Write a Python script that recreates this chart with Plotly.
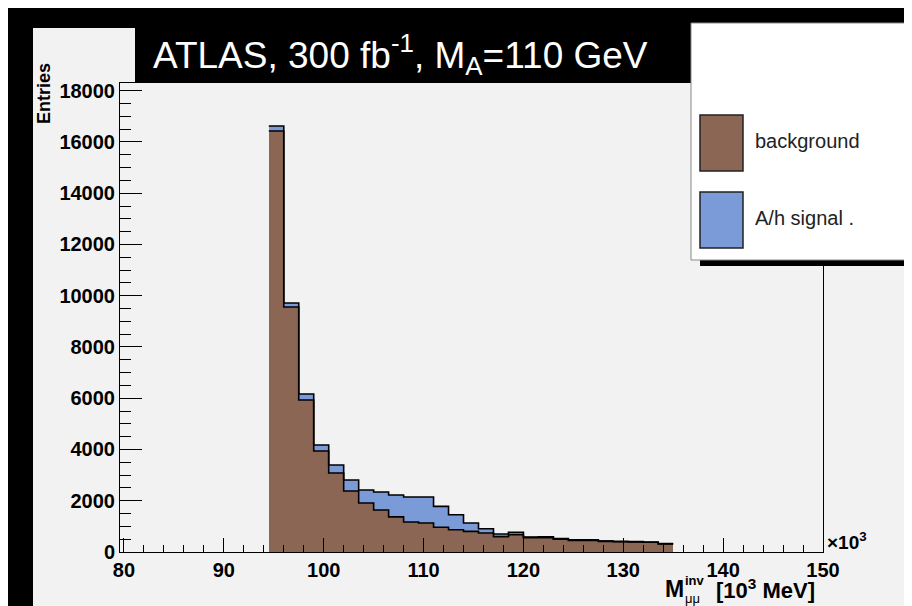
import plotly.graph_objects as go

# ---------------- data ----------------
bin_centers = [95.25, 96.75, 98.25, 99.75, 101.25, 102.75, 104.25, 105.75, 107.25,
               108.75, 110.25, 111.75, 113.25, 114.75, 116.25, 117.75, 119.25, 120.75,
               122.25, 123.75, 125.25, 126.75, 128.25, 129.75, 131.25, 132.75, 134.25]
background = [16430, 9560, 5930, 3940, 3080, 2380, 1910, 1640, 1370,
              1170, 1130, 965, 870, 805, 740, 600, 675, 560,
              560, 495, 455, 455, 415, 400, 390, 378, 312]
signal = [190, 155, 235, 235, 315, 430, 510, 700, 855,
          975, 1015, 815, 585, 325, 170, 100, 90, 25,
          35, 25, 25, 25, 15, 15, 13, 12, 13]
bin_width = 1.5
x_ticks = [80, 90, 100, 110, 120, 130, 140, 150]
y_ticks = [0, 2000, 4000, 6000, 8000, 10000, 12000, 14000, 16000, 18000]

BROWN = "#8C6654"
BLUE = "#7B9BD8"
BG = "#F2F2F2"

total = [b + s for b, s in zip(background, signal)]
lefts = [c - bin_width / 2 for c in bin_centers]
step_x = lefts + [bin_centers[-1] + bin_width / 2]

fig = go.Figure()
fig.add_trace(go.Bar(x=bin_centers, y=background, width=bin_width,
                     marker=dict(color=BROWN, line=dict(width=0)), showlegend=False))
fig.add_trace(go.Bar(x=bin_centers, y=signal, width=bin_width,
                     marker=dict(color=BLUE, line=dict(width=0)), showlegend=False))
fig.add_trace(go.Scatter(x=step_x, y=total + [total[-1]], mode="lines", line_shape="hv",
                         line=dict(color="black", width=1.6), showlegend=False))
fig.add_trace(go.Scatter(x=step_x, y=background + [background[-1]], mode="lines",
                         line_shape="hv", line=dict(color="black", width=1.6), showlegend=False))

# plot area in pixels
L, R, T, B = 112, 815, 75, 544
W, H = R - L, B - T


def px(xp):
    return (xp - L) / W


def py(yp):
    return (B - yp) / H


tickfont = dict(family="Liberation Sans, Arial", size=20, color="black", weight="bold")

fig.update_layout(
    width=912, height=606,
    margin=dict(l=L, r=912 - R, t=T, b=606 - B),
    paper_bgcolor=BG, plot_bgcolor=BG,
    barmode="stack", bargap=0,
    showlegend=False,
    xaxis=dict(range=[79.6, 150], tickvals=x_ticks, ticktext=[str(v) for v in x_ticks],
               ticks="inside", ticklen=14, tickwidth=1, tickcolor="black",
               minor=dict(dtick=2, tick0=80, ticks="inside", ticklen=7, tickcolor="black"),
               showline=True, linecolor="black", linewidth=1, mirror=True,
               showgrid=False, zeroline=False, tickfont=tickfont),
    yaxis=dict(range=[0, 18300], tickvals=y_ticks, ticktext=[str(v) for v in y_ticks],
               ticks="inside", ticklen=22, tickwidth=1, tickcolor="black",
               minor=dict(dtick=500, tick0=0, ticks="inside", ticklen=11, tickcolor="black"),
               showline=True, linecolor="black", linewidth=1, mirror=True,
               showgrid=False, zeroline=False, tickfont=tickfont),
)

shapes = []
# outer black border strips
shapes.append(dict(type="rect", xref="paper", yref="paper", x0=px(0), x1=px(912), y0=py(0), y1=py(20),
                   fillcolor="black", line=dict(width=0), layer="above"))
shapes.append(dict(type="rect", xref="paper", yref="paper", x0=px(0), x1=px(25), y0=py(0), y1=py(606),
                   fillcolor="black", line=dict(width=0), layer="above"))
shapes.append(dict(type="rect", xref="paper", yref="paper", x0=px(907), x1=px(912), y0=py(0), y1=py(606),
                   fillcolor="black", line=dict(width=0), layer="above"))
# thin canvas edge lines at bottom
shapes.append(dict(type="line", xref="paper", yref="paper", x0=px(25), x1=px(905), y0=py(603), y1=py(603),
                   line=dict(color="#C8C8C8", width=1), layer="above"))
shapes.append(dict(type="rect", xref="paper", yref="paper", x0=px(25), x1=px(907), y0=py(603.5), y1=py(606),
                   fillcolor="#FAFAFA", line=dict(width=0), layer="above"))
# title box
shapes.append(dict(type="rect", xref="paper", yref="paper", x0=px(127), x1=px(683), y0=py(14), y1=py(75),
                   fillcolor="black", line=dict(width=0), layer="above"))
# legend box + shadow
shapes.append(dict(type="rect", xref="paper", yref="paper", x0=px(692), x1=px(907), y0=py(251), y1=py(258),
                   fillcolor="black", line=dict(width=0), layer="above"))
shapes.append(dict(type="rect", xref="paper", yref="paper", x0=px(683), x1=px(903), y0=py(15), y1=py(252),
                   fillcolor="white", line=dict(color="#888888", width=1), layer="above"))
shapes.append(dict(type="rect", xref="paper", yref="paper", x0=px(692), x1=px(735), y0=py(107), y1=py(163),
                   fillcolor=BROWN, line=dict(color="#222222", width=1.5), layer="above"))
shapes.append(dict(type="rect", xref="paper", yref="paper", x0=px(692), x1=px(735), y0=py(184), y1=py(240),
                   fillcolor=BLUE, line=dict(color="#222222", width=1.5), layer="above"))
fig.update_layout(shapes=shapes)

ann = []
ann.append(dict(xref="paper", yref="paper", x=px(143), y=py(46), xanchor="left", yanchor="middle",
                text="ATLAS, 300 fb<sup>-1</sup>, M<sub>A</sub>=110 GeV", showarrow=False,
                font=dict(family="Liberation Sans Narrow, Liberation Sans, Arial", size=37, color="white")))
ann.append(dict(xref="paper", yref="paper", x=px(745), y=py(133), xanchor="left", yanchor="middle",
                text="background", showarrow=False,
                font=dict(family="Liberation Sans, Arial", size=20, color="#222222")))
ann.append(dict(xref="paper", yref="paper", x=px(745), y=py(210), xanchor="left", yanchor="middle",
                text="A/h signal .", showarrow=False,
                font=dict(family="Liberation Sans, Arial", size=20, color="#222222")))
ann.append(dict(xref="paper", yref="paper", x=px(36), y=py(86), xanchor="center", yanchor="middle",
                text="<b>Entries</b>", textangle=-90, showarrow=False,
                font=dict(family="Liberation Sans, Arial", size=18, color="black")))
ann.append(dict(xref="paper", yref="paper", x=px(817), y=py(533), xanchor="left", yanchor="middle",
                text="<b>\u00d710<sup>3</sup></b>", showarrow=False,
                font=dict(family="Liberation Sans, Arial", size=19, color="black")))
ann.append(dict(xref="paper", yref="paper", x=px(655), y=py(581), xanchor="left", yanchor="middle",
                text="<b>M</b>", showarrow=False,
                font=dict(family="Liberation Sans, Arial", size=23, color="black")))
ann.append(dict(xref="paper", yref="paper", x=px(675), y=py(572), xanchor="left", yanchor="middle",
                text="<b>inv</b>", showarrow=False,
                font=dict(family="Liberation Sans, Arial", size=13, color="black")))
ann.append(dict(xref="paper", yref="paper", x=px(675), y=py(590), xanchor="left", yanchor="middle",
                text="\u03bc\u03bc", showarrow=False,
                font=dict(family="Liberation Sans, Arial", size=13, color="black")))
ann.append(dict(xref="paper", yref="paper", x=px(809), y=py(581), xanchor="right", yanchor="middle",
                text="<b>[10<sup>3</sup> MeV]</b>", showarrow=False,
                font=dict(family="Liberation Sans, Arial", size=22, color="black")))
fig.update_layout(annotations=ann)

fig.write_html("out.html")
